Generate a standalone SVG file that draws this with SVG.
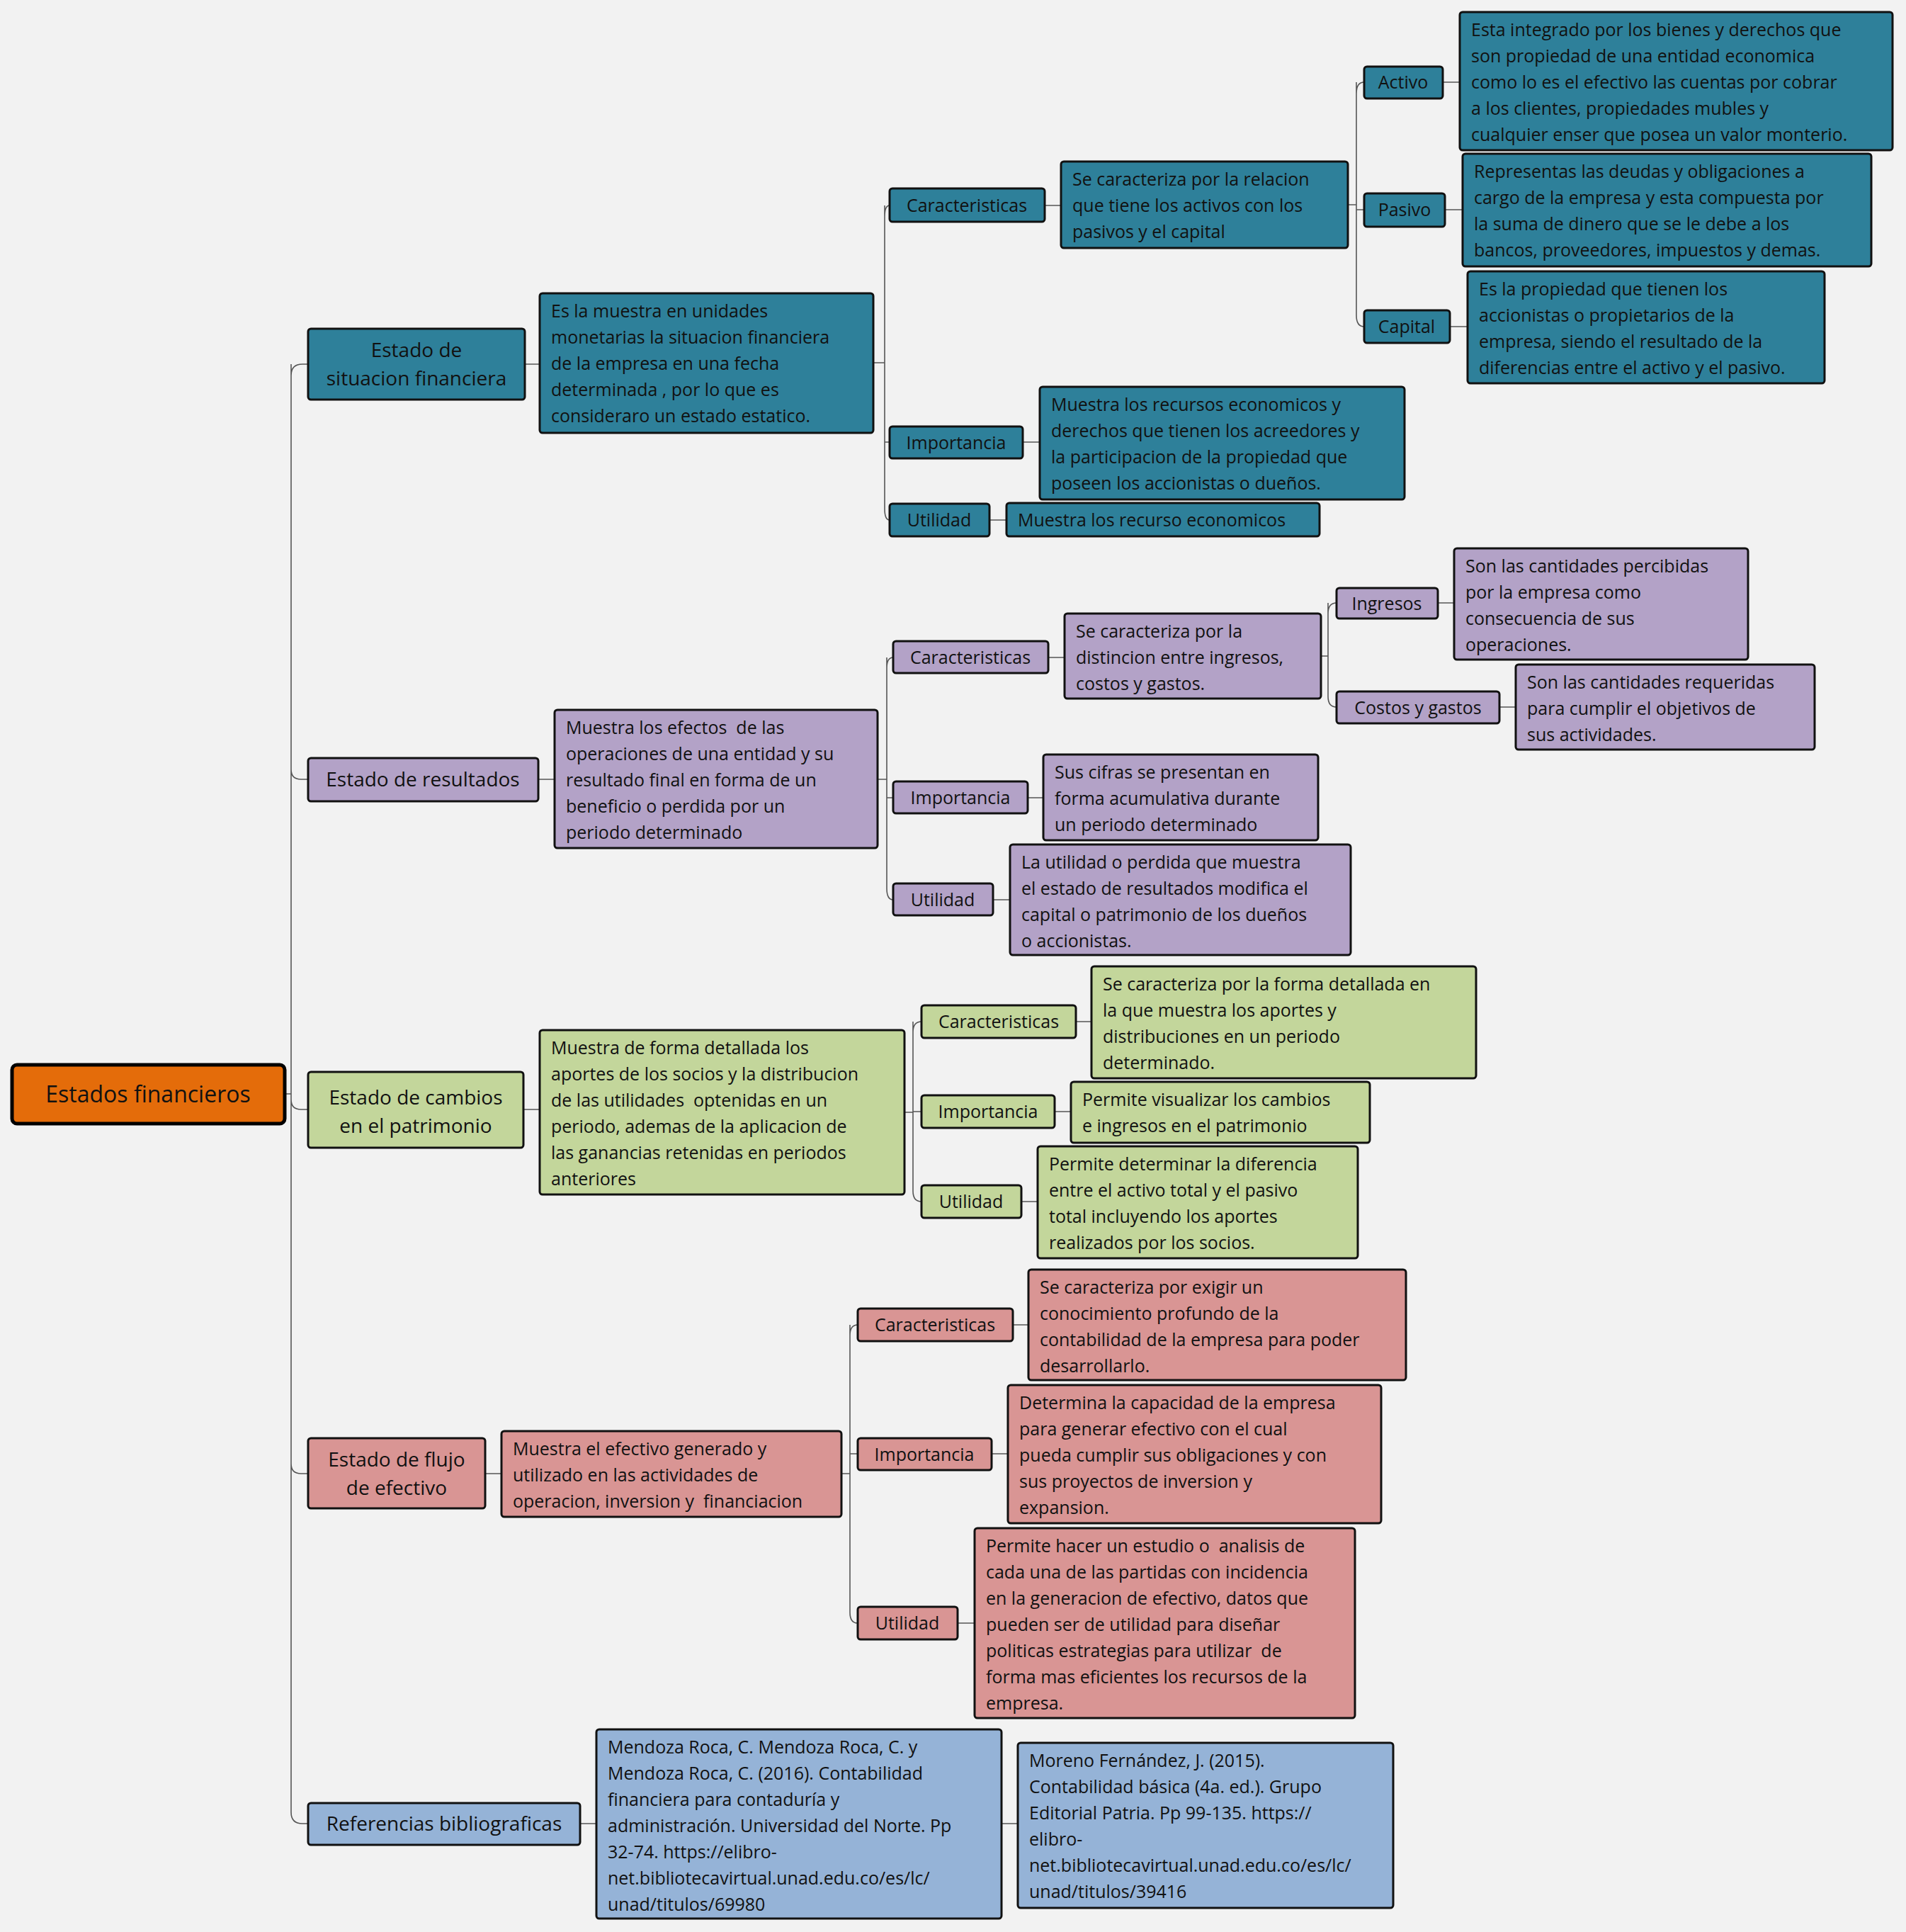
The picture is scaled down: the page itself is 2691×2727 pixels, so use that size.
<svg xmlns="http://www.w3.org/2000/svg" width="2691" height="2727" viewBox="0 0 2691 2727">
<style>
.bg{fill:#f2f2f2}
rect{stroke:#111;stroke-width:3}
.t{fill:#2e809a}.p{fill:#b3a2c7}.g{fill:#c3d69b}.r{fill:#d99594}.b{fill:#95b3d7}
text{font-family:"Open Sans","Noto Sans",sans-serif;font-size:25px;fill:#111;white-space:pre}
.c{text-anchor:middle}
.l1{font-size:28px}
.root{font-size:32px}
#connectors path{fill:none;stroke:#555;stroke-width:1.6}
</style>
<rect class="bg" x="0" y="0" width="2691" height="2727" style="stroke:none"/>
<g id="connectors">
<path d="M402,1544H411M411,530Q411,514 427,514H435M411,514V2558Q411,2574 427,2574H435M411,1086Q411,1100 425,1100H435M411,1552Q411,1566 425,1566H435M411,2066Q411,2080 425,2080H435"/>
<path d="M741,514H762M760,1100H783M739,1566H762M685,2080H708M819,2574H842M1414,2574H1437"/>
<path d="M1233,512H1249M1249,306Q1249,290 1256,290M1249,290V718Q1249,734 1256,734M1249,624H1256"/>
<path d="M1475,290H1498M1444,624H1468M1397,734H1421"/>
<path d="M1903,289H1915M1915,132Q1915,116 1926,116M1915,116V445Q1915,461 1926,461M1915,296H1926"/>
<path d="M2037,116H2061M2040,296H2065M2047,461H2072"/>
<path d="M1239,1100H1252M1252,943Q1252,928 1261,928M1252,928V1254Q1252,1270 1261,1270M1252,1126H1261"/>
<path d="M1480,928H1503M1451,1126H1473M1402,1270H1426"/>
<path d="M1865,926H1875M1875,866Q1875,851 1887,851M1875,851V983Q1875,998 1887,998"/>
<path d="M2030,851H2053M2117,998H2140"/>
<path d="M1277,1570H1289M1289,1457Q1289,1442 1301,1442M1289,1442V1681Q1289,1696 1301,1696M1289,1569H1301"/>
<path d="M1519,1442H1541M1489,1569H1512M1442,1696H1465"/>
<path d="M1188,2080H1200M1200,1885Q1200,1870 1211,1870M1200,1870V2276Q1200,2291 1211,2291M1200,2052H1211"/>
<path d="M1430,1870H1452M1400,2052H1423M1352,2291H1376"/>
</g>
<g id="root"><rect x="17" y="1503" width="385" height="83" rx="7" fill="#e46c0a" style="stroke:#000;stroke-width:5"/><text class="c root" x="209" y="1556">Estados financieros</text></g>

<g id="n-a"><rect class="t" x="435" y="464" width="306" height="100" rx="4"/><text class="c l1" x="588" y="504">Estado de<tspan x="588" dy="40">situacion financiera</tspan></text></g>
<g id="n-a-desc"><rect class="t" x="762" y="414" width="471" height="197" rx="4"/><text x="778" y="448">Es la muestra en unidades<tspan x="778" dy="37">monetarias la situacion financiera</tspan><tspan x="778" dy="37">de la empresa en una fecha</tspan><tspan x="778" dy="37">determinada , por lo que es</tspan><tspan x="778" dy="37">consideraro un estado estatico.</tspan></text></g>
<g id="n-a-car"><rect class="t" x="1256" y="266" width="219" height="47" rx="4"/><text class="c" x="1365" y="299">Caracteristicas</text></g>
<g id="n-a-car-d"><rect class="t" x="1498" y="228" width="405" height="122" rx="4"/><text x="1514" y="262">Se caracteriza por la relacion<tspan x="1514" dy="37">que tiene los activos con los</tspan><tspan x="1514" dy="37">pasivos y el capital</tspan></text></g>
<g id="n-activo"><rect class="t" x="1926" y="94" width="111" height="45" rx="4"/><text class="c" x="1981" y="125">Activo</text></g>
<g id="n-activo-d"><rect class="t" x="2061" y="17" width="611" height="195" rx="4"/><text x="2077" y="51">Esta integrado por los bienes y derechos que<tspan x="2077" dy="37">son propiedad de una entidad economica</tspan><tspan x="2077" dy="37">como lo es el efectivo las cuentas por cobrar</tspan><tspan x="2077" dy="37">a los clientes, propiedades mubles y</tspan><tspan x="2077" dy="37">cualquier enser que posea un valor monterio.</tspan></text></g>
<g id="n-pasivo"><rect class="t" x="1926" y="273" width="114" height="47" rx="4"/><text class="c" x="1983" y="305">Pasivo</text></g>
<g id="n-pasivo-d"><rect class="t" x="2065" y="217" width="577" height="159" rx="4"/><text x="2081" y="251">Representas las deudas y obligaciones a<tspan x="2081" dy="37">cargo de la empresa y esta compuesta por</tspan><tspan x="2081" dy="37">la suma de dinero que se le debe a los</tspan><tspan x="2081" dy="37">bancos, proveedores, impuestos y demas.</tspan></text></g>
<g id="n-capital"><rect class="t" x="1926" y="438" width="121" height="46" rx="4"/><text class="c" x="1986" y="470">Capital</text></g>
<g id="n-capital-d"><rect class="t" x="2072" y="383" width="504" height="158" rx="4"/><text x="2088" y="417">Es la propiedad que tienen los<tspan x="2088" dy="37">accionistas o propietarios de la</tspan><tspan x="2088" dy="37">empresa, siendo el resultado de la</tspan><tspan x="2088" dy="37">diferencias entre el activo y el pasivo.</tspan></text></g>
<g id="n-a-imp"><rect class="t" x="1256" y="602" width="188" height="45" rx="4"/><text class="c" x="1350" y="634">Importancia</text></g>
<g id="n-a-imp-d"><rect class="t" x="1468" y="546" width="515" height="159" rx="4"/><text x="1484" y="580">Muestra los recursos economicos y<tspan x="1484" dy="37">derechos que tienen los acreedores y</tspan><tspan x="1484" dy="37">la participacion de la propiedad que</tspan><tspan x="1484" dy="37">poseen los accionistas o dueños.</tspan></text></g>
<g id="n-a-uti"><rect class="t" x="1256" y="711" width="141" height="46" rx="4"/><text class="c" x="1326" y="743">Utilidad</text></g>
<g id="n-a-uti-d"><rect class="t" x="1421" y="710" width="442" height="47" rx="4"/><text x="1437" y="743">Muestra los recurso economicos</text></g>

<g id="n-b"><rect class="p" x="435" y="1070" width="325" height="61" rx="4"/><text class="c l1" x="597" y="1110">Estado de resultados</text></g>
<g id="n-b-desc"><rect class="p" x="783" y="1002" width="456" height="195" rx="4"/><text x="799" y="1036">Muestra los efectos  de las<tspan x="799" dy="37">operaciones de una entidad y su</tspan><tspan x="799" dy="37">resultado final en forma de un</tspan><tspan x="799" dy="37">beneficio o perdida por un</tspan><tspan x="799" dy="37">periodo determinado</tspan></text></g>
<g id="n-b-car"><rect class="p" x="1261" y="905" width="219" height="45" rx="4"/><text class="c" x="1370" y="937">Caracteristicas</text></g>
<g id="n-b-car-d"><rect class="p" x="1503" y="866" width="362" height="120" rx="4"/><text x="1519" y="900">Se caracteriza por la<tspan x="1519" dy="37">distincion entre ingresos,</tspan><tspan x="1519" dy="37">costos y gastos.</tspan></text></g>
<g id="n-ing"><rect class="p" x="1887" y="830" width="143" height="43" rx="4"/><text class="c" x="1958" y="861">Ingresos</text></g>
<g id="n-ing-d"><rect class="p" x="2053" y="774" width="415" height="157" rx="4"/><text x="2069" y="808">Son las cantidades percibidas<tspan x="2069" dy="37">por la empresa como</tspan><tspan x="2069" dy="37">consecuencia de sus</tspan><tspan x="2069" dy="37">operaciones.</tspan></text></g>
<g id="n-cos"><rect class="p" x="1887" y="976" width="230" height="45" rx="4"/><text class="c" x="2002" y="1008">Costos y gastos</text></g>
<g id="n-cos-d"><rect class="p" x="2140" y="938" width="422" height="120" rx="4"/><text x="2156" y="972">Son las cantidades requeridas<tspan x="2156" dy="37">para cumplir el objetivos de</tspan><tspan x="2156" dy="37">sus actividades.</tspan></text></g>
<g id="n-b-imp"><rect class="p" x="1261" y="1103" width="190" height="45" rx="4"/><text class="c" x="1356" y="1135">Importancia</text></g>
<g id="n-b-imp-d"><rect class="p" x="1473" y="1065" width="388" height="121" rx="4"/><text x="1489" y="1099">Sus cifras se presentan en<tspan x="1489" dy="37">forma acumulativa durante</tspan><tspan x="1489" dy="37">un periodo determinado</tspan></text></g>
<g id="n-b-uti"><rect class="p" x="1261" y="1247" width="141" height="45" rx="4"/><text class="c" x="1331" y="1279">Utilidad</text></g>
<g id="n-b-uti-d"><rect class="p" x="1426" y="1192" width="481" height="156" rx="4"/><text x="1442" y="1226">La utilidad o perdida que muestra<tspan x="1442" dy="37">el estado de resultados modifica el</tspan><tspan x="1442" dy="37">capital o patrimonio de los dueños</tspan><tspan x="1442" dy="37">o accionistas.</tspan></text></g>

<g id="n-c"><rect class="g" x="435" y="1513" width="304" height="107" rx="4"/><text class="c l1" x="587" y="1559">Estado de cambios<tspan x="587" dy="40">en el patrimonio</tspan></text></g>
<g id="n-c-desc"><rect class="g" x="762" y="1454" width="515" height="232" rx="4"/><text x="778" y="1488">Muestra de forma detallada los<tspan x="778" dy="37">aportes de los socios y la distribucion</tspan><tspan x="778" dy="37">de las utilidades  optenidas en un</tspan><tspan x="778" dy="37">periodo, ademas de la aplicacion de</tspan><tspan x="778" dy="37">las ganancias retenidas en periodos</tspan><tspan x="778" dy="37">anteriores</tspan></text></g>
<g id="n-c-car"><rect class="g" x="1301" y="1419" width="218" height="46" rx="4"/><text class="c" x="1410" y="1451">Caracteristicas</text></g>
<g id="n-c-car-d"><rect class="g" x="1541" y="1364" width="543" height="158" rx="4"/><text x="1557" y="1398">Se caracteriza por la forma detallada en<tspan x="1557" dy="37">la que muestra los aportes y</tspan><tspan x="1557" dy="37">distribuciones en un periodo</tspan><tspan x="1557" dy="37">determinado.</tspan></text></g>
<g id="n-c-imp"><rect class="g" x="1301" y="1546" width="188" height="46" rx="4"/><text class="c" x="1395" y="1578">Importancia</text></g>
<g id="n-c-imp-d"><rect class="g" x="1512" y="1527" width="422" height="86" rx="4"/><text x="1528" y="1561">Permite visualizar los cambios<tspan x="1528" dy="37">e ingresos en el patrimonio</tspan></text></g>
<g id="n-c-uti"><rect class="g" x="1301" y="1673" width="141" height="46" rx="4"/><text class="c" x="1371" y="1705">Utilidad</text></g>
<g id="n-c-uti-d"><rect class="g" x="1465" y="1618" width="452" height="158" rx="4"/><text x="1481" y="1652">Permite determinar la diferencia<tspan x="1481" dy="37">entre el activo total y el pasivo</tspan><tspan x="1481" dy="37">total incluyendo los aportes</tspan><tspan x="1481" dy="37">realizados por los socios.</tspan></text></g>

<g id="n-d"><rect class="r" x="435" y="2030" width="250" height="99" rx="4"/><text class="c l1" x="560" y="2070">Estado de flujo<tspan x="560" dy="40">de efectivo</tspan></text></g>
<g id="n-d-desc"><rect class="r" x="708" y="2020" width="480" height="121" rx="4"/><text x="724" y="2054">Muestra el efectivo generado y<tspan x="724" dy="37">utilizado en las actividades de</tspan><tspan x="724" dy="37">operacion, inversion y  financiacion</tspan></text></g>
<g id="n-d-car"><rect class="r" x="1211" y="1847" width="219" height="46" rx="4"/><text class="c" x="1320" y="1879">Caracteristicas</text></g>
<g id="n-d-car-d"><rect class="r" x="1452" y="1792" width="533" height="156" rx="4"/><text x="1468" y="1826">Se caracteriza por exigir un<tspan x="1468" dy="37">conocimiento profundo de la</tspan><tspan x="1468" dy="37">contabilidad de la empresa para poder</tspan><tspan x="1468" dy="37">desarrollarlo.</tspan></text></g>
<g id="n-d-imp"><rect class="r" x="1211" y="2030" width="189" height="45" rx="4"/><text class="c" x="1305" y="2062">Importancia</text></g>
<g id="n-d-imp-d"><rect class="r" x="1423" y="1955" width="527" height="195" rx="4"/><text x="1439" y="1989">Determina la capacidad de la empresa<tspan x="1439" dy="37">para generar efectivo con el cual</tspan><tspan x="1439" dy="37">pueda cumplir sus obligaciones y con</tspan><tspan x="1439" dy="37">sus proyectos de inversion y</tspan><tspan x="1439" dy="37">expansion.</tspan></text></g>
<g id="n-d-uti"><rect class="r" x="1211" y="2268" width="141" height="46" rx="4"/><text class="c" x="1281" y="2300">Utilidad</text></g>
<g id="n-d-uti-d"><rect class="r" x="1376" y="2157" width="537" height="268" rx="4"/><text x="1392" y="2191">Permite hacer un estudio o  analisis de<tspan x="1392" dy="37">cada una de las partidas con incidencia</tspan><tspan x="1392" dy="37">en la generacion de efectivo, datos que</tspan><tspan x="1392" dy="37">pueden ser de utilidad para diseñar</tspan><tspan x="1392" dy="37">politicas estrategias para utilizar  de</tspan><tspan x="1392" dy="37">forma mas eficientes los recursos de la</tspan><tspan x="1392" dy="37">empresa.</tspan></text></g>

<g id="n-e"><rect class="b" x="435" y="2545" width="384" height="59" rx="4"/><text class="c l1" x="627" y="2584">Referencias bibliograficas</text></g>
<g id="n-e-r1"><rect class="b" x="842" y="2441" width="572" height="267" rx="4"/><text x="858" y="2475">Mendoza Roca, C. Mendoza Roca, C. y<tspan x="858" dy="37">Mendoza Roca, C. (2016). Contabilidad</tspan><tspan x="858" dy="37">financiera para contaduría y</tspan><tspan x="858" dy="37">administración. Universidad del Norte. Pp</tspan><tspan x="858" dy="37">32-74. https://elibro-</tspan><tspan x="858" dy="37">net.bibliotecavirtual.unad.edu.co/es/lc/</tspan><tspan x="858" dy="37">unad/titulos/69980</tspan></text></g>
<g id="n-e-r2"><rect class="b" x="1437" y="2460" width="530" height="233" rx="4"/><text x="1453" y="2494">Moreno Fernández, J. (2015).<tspan x="1453" dy="37">Contabilidad básica (4a. ed.). Grupo</tspan><tspan x="1453" dy="37">Editorial Patria. Pp 99-135. https://</tspan><tspan x="1453" dy="37">elibro-</tspan><tspan x="1453" dy="37">net.bibliotecavirtual.unad.edu.co/es/lc/</tspan><tspan x="1453" dy="37">unad/titulos/39416</tspan></text></g>
</svg>
